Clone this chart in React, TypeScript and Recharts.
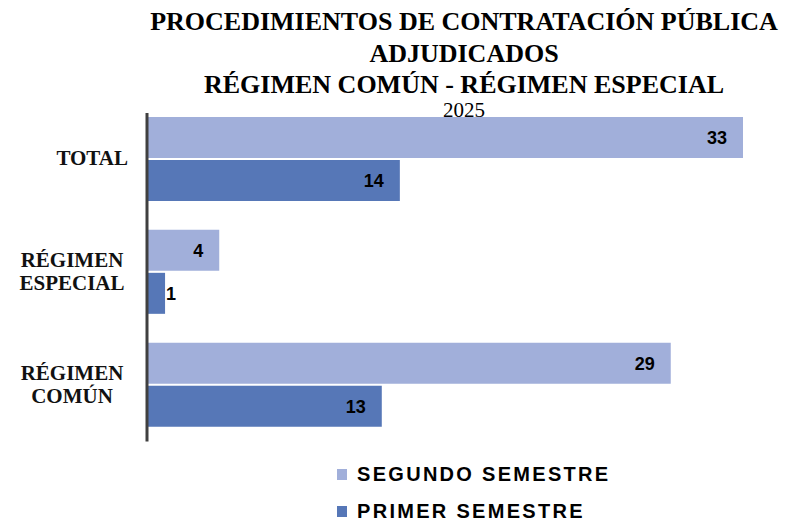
import React from 'react';
import { BarChart, Bar, XAxis, YAxis, Legend, LabelList } from 'recharts';

const categories = ['TOTAL', 'RÉGIMEN ESPECIAL', 'RÉGIMEN COMÚN'];
const segundoSemestre = [33, 4, 29];
const primerSemestre = [14, 1, 13];
const seriesNames = ['SEGUNDO SEMESTRE', 'PRIMER SEMESTRE'];
const seriesColors = ['#A1AFDA', '#5677B7'];
const titleLines = ['PROCEDIMIENTOS DE CONTRATACIÓN PÚBLICA', 'ADJUDICADOS', 'RÉGIMEN COMÚN - RÉGIMEN ESPECIAL'];
const subtitle = '2025';

const data = categories.map((c, i) => ({ name: c, segundo: segundoSemestre[i], primer: primerSemestre[i] }));

const SERIF = '"Liberation Serif", "Times New Roman", serif';
const SANS = '"Liberation Sans", Arial, sans-serif';

const YTick = (props: any) => {
  const { x, y, payload } = props;
  const words = String(payload.value).split(' ');
  const common = { fontFamily: SERIF, fontWeight: 'bold' as const, fontSize: 21, fill: '#111' };
  if (words.length === 1) {
    return (
      <text x={x - 19} y={y + 6} textAnchor="end" {...common}>
        {words[0]}
      </text>
    );
  }
  return (
    <text x={x - 75} y={y} textAnchor="middle" {...common}>
      {words.map((w, i) => (
        <tspan key={i} x={x - 75} y={y - 5 + i * 23}>
          {w}
        </tspan>
      ))}
    </text>
  );
};

const renderLabel = (props: any) => {
  const { x, y, width, height, value } = props;
  const inside = width > 30;
  return (
    <text
      x={inside ? x + width - 16 : x + width + 1}
      y={y + height / 2 + 6.5}
      textAnchor={inside ? 'end' : 'start'}
      fontFamily={SANS}
      fontWeight="bold"
      fontSize={18}
      fill="#000"
    >
      {value}
    </text>
  );
};

const renderLegend = (props: any) => {
  const payload = [...(props.payload || [])].sort(
    (a: any, b: any) => seriesNames.indexOf(a.value) - seriesNames.indexOf(b.value)
  );
  return (
    <div>
      {payload.map((p: any, i: number) => (
        <div key={i} style={{ display: 'flex', alignItems: 'center', height: 37 }}>
          <span style={{ display: 'inline-block', width: 10, height: 11, background: p.color, marginRight: 10 }} />
          <span
            style={{
              fontFamily: SANS,
              fontWeight: 'bold',
              fontSize: 20,
              letterSpacing: 2.3,
              color: '#000',
              whiteSpace: 'nowrap',
            }}
          >
            {p.value}
          </span>
        </div>
      ))}
    </div>
  );
};

const titleTops = [9, 41, 72];

export default function App() {
  return (
    <div style={{ position: 'absolute', left: 0, top: 0, width: 799, height: 524, background: '#fff' }}>
      {titleLines.map((t, i) => (
        <div
          key={i}
          style={{
            position: 'absolute',
            left: 130,
            width: 668,
            top: titleTops[i],
            textAlign: 'center',
            fontFamily: SERIF,
            fontWeight: 'bold',
            fontSize: 26,
            lineHeight: '25px',
            whiteSpace: 'nowrap',
            color: '#000',
          }}
        >
          {t}
        </div>
      ))}
      <div
        style={{
          position: 'absolute',
          left: 130,
          width: 668,
          top: 101,
          textAlign: 'center',
          fontFamily: SERIF,
          fontSize: 21,
          lineHeight: '19px',
          color: '#000',
          zIndex: 2,
        }}
      >
        {subtitle}
      </div>
      <div style={{ position: 'absolute', left: 0, top: 0 }}>
        <BarChart
          width={799}
          height={524}
          data={data}
          layout="vertical"
          margin={{ top: 113, right: 56, bottom: 82.5, left: 0 }}
          barSize={41}
          barGap={2}
        >
          <XAxis type="number" domain={[0, 33]} hide />
          <YAxis
            type="category"
            dataKey="name"
            width={147}
            tickLine={false}
            tickSize={0}
            tickMargin={0}
            axisLine={{ stroke: '#404040', strokeWidth: 3 }}
            tick={<YTick />}
            padding={{ top: -10, bottom: 0 }}
            interval={0}
          />
          <Legend
            layout="vertical"
            align="center"
            verticalAlign="middle"
            content={renderLegend}
            wrapperStyle={{ top: 456, left: 337, width: 'auto' }}
          />
          <Bar dataKey="segundo" name={seriesNames[0]} fill={seriesColors[0]} isAnimationActive={false}>
            <LabelList dataKey="segundo" content={renderLabel} />
          </Bar>
          <Bar dataKey="primer" name={seriesNames[1]} fill={seriesColors[1]} isAnimationActive={false}>
            <LabelList dataKey="primer" content={renderLabel} />
          </Bar>
        </BarChart>
      </div>
    </div>
  );
}
